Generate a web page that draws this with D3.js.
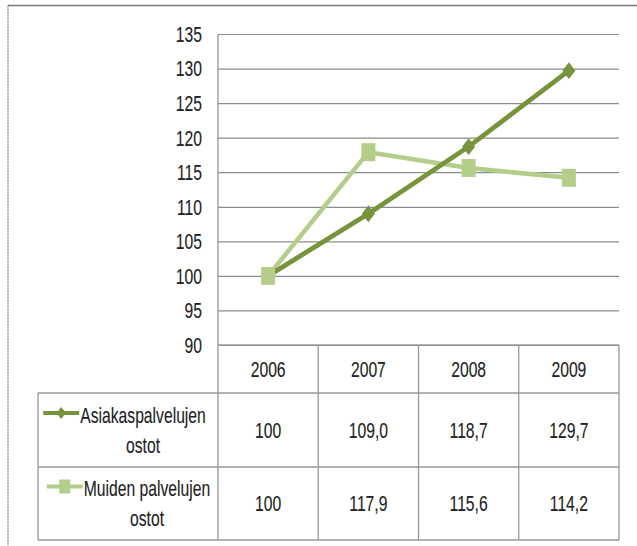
<!DOCTYPE html>
<html>
<head>
<meta charset="utf-8">
<script src="https://cdn.jsdelivr.net/npm/d3@7"></script>
<style>
  body { margin: 0; background: #fff; }
  svg { display: block; }
  text { font-family: "Liberation Sans", Arial, sans-serif; font-size: 21.5px; fill: #222; stroke: #222; stroke-width: 0.12px; }
</style>
</head>
<body>
<svg id="chart" width="637" height="546"></svg>
<script>
// data
const years = ["2006", "2007", "2008", "2009"];
const asiakas = [100, 109.0, 118.7, 129.7];
const muiden = [100, 117.9, 115.6, 114.2];
const asiakasLabels = ["100", "109,0", "118,7", "129,7"];
const muidenLabels = ["100", "117,9", "115,6", "114,2"];
const seriesNames = [["Asiakaspalvelujen", "ostot"], ["Muiden palvelujen", "ostot"]];
const yTicks = [90, 95, 100, 105, 110, 115, 120, 125, 130, 135];

const darkGreen = "#77933c",
      lightGreen = "#b4cd8a",
      gridColor = "#8c8c8c",
      SX = 0.73; // text in the picture is narrow

const svg = d3.select("#chart");

const plotLeft = 218, plotRight = 619, plotTop = 34, plotBottom = 345;
const rowH = [48, 74, 73];
const legendLeft = 38;

const x = d3.scaleBand().domain(years).range([plotLeft, plotRight]);
const y = d3.scaleLinear().domain([90, 135]).range([plotBottom, plotTop]);

function narrowText(g, tx, ty, str, anchor) {
	return g.append("text")
		.attr("transform", "translate(" + tx + "," + ty + ") scale(" + SX + ",1)")
		.attr("text-anchor", anchor || "middle")
		.attr("dy", "0.35em")
		.text(str);
}

// outer frame (cut off on the right and bottom)
svg.append("line").attr("x1", 8).attr("x2", 637).attr("y1", 5.5).attr("y2", 5.5)
	.attr("stroke", "#777").attr("stroke-width", 1.5);
svg.append("line").attr("x1", 8).attr("x2", 8).attr("y1", 5.5).attr("y2", 546)
	.attr("stroke", "#999").attr("stroke-width", 1.5).attr("stroke-dasharray", "2,1");

// gridlines + tick labels
const yAxis = svg.append("g")
	.attr("transform", "translate(" + plotLeft + ",0)")
	.call(d3.axisLeft(y).tickValues(yTicks).tickSize(-(plotRight - plotLeft)).tickPadding(0));
yAxis.select(".domain").remove();
yAxis.selectAll(".tick line").attr("stroke", gridColor).attr("stroke-width", 1.2);
yAxis.selectAll(".tick text")
	.attr("x", null).attr("dy", null)
	.attr("fill", "#222")
	.attr("text-anchor", "end")
	.attr("dominant-baseline", "central")
	.attr("transform", "translate(-16,0) scale(" + SX + ",1)");
yAxis.attr("font-size", null).attr("font-family", null);

svg.append("line").attr("x1", plotLeft).attr("x2", plotLeft).attr("y1", plotTop).attr("y2", plotBottom)
	.attr("stroke", gridColor).attr("stroke-width", 1.2);

// data table
const tbl = svg.append("g");
const rowTop = [plotBottom, plotBottom + rowH[0], plotBottom + rowH[0] + rowH[1]];
const tableBottom = rowTop[2] + rowH[2];
const borderColor = "#999";

// horizontal lines
tbl.append("line").attr("x1", plotLeft).attr("x2", plotRight).attr("y1", plotBottom).attr("y2", plotBottom);
[rowTop[1], rowTop[2], tableBottom].forEach(yy => {
	tbl.append("line").attr("x1", legendLeft).attr("x2", plotRight).attr("y1", yy).attr("y2", yy);
});
// vertical lines
years.forEach(yr => {
	tbl.append("line").attr("x1", x(yr)).attr("x2", x(yr)).attr("y1", plotBottom).attr("y2", tableBottom);
});
tbl.append("line").attr("x1", plotRight).attr("x2", plotRight).attr("y1", plotBottom).attr("y2", tableBottom);
tbl.append("line").attr("x1", legendLeft).attr("x2", legendLeft).attr("y1", rowTop[1]).attr("y2", tableBottom);
tbl.selectAll("line").attr("stroke", borderColor).attr("stroke-width", 1.3);

// header + values
years.forEach((yr, i) => {
	const cx = x(yr) + x.bandwidth() / 2;
	narrowText(tbl, cx, rowTop[0] + rowH[0] / 2, yr);
	narrowText(tbl, cx, rowTop[1] + rowH[1] / 2, asiakasLabels[i]);
	narrowText(tbl, cx, rowTop[2] + rowH[2] / 2, muidenLabels[i]);
});

// legend cells
const diamond = d3.symbol().type(d3.symbolDiamond2);
const legendSpec = [
	{ names: seriesNames[0], color: darkGreen, marker: "diamond", row: 1, cx: 143 },
	{ names: seriesNames[1], color: lightGreen, marker: "square", row: 2, cx: 147 }
];
legendSpec.forEach(s => {
	const midY = rowTop[s.row] + rowH[s.row] / 2;
	const l1 = narrowText(tbl, s.cx, midY - 15, s.names[0]);
	narrowText(tbl, s.cx, midY + 15, s.names[1]);
	const w = l1.node().getComputedTextLength() * SX;
	const x1 = s.cx - w / 2 - 1;
	const x0 = x1 - 36;
	const my = midY - 17;
	tbl.append("line").attr("x1", x0).attr("x2", x1).attr("y1", my).attr("y2", my)
		.attr("stroke", s.color).attr("stroke-width", 4);
	if (s.marker === "diamond") {
		tbl.append("path").attr("d", diamond.size(60)())
			.attr("transform", "translate(" + ((x0 + x1) / 2) + "," + my + ") scale(1,1.25)")
			.attr("fill", s.color);
	} else {
		tbl.append("rect").attr("x", (x0 + x1) / 2 - 5.5).attr("y", my - 7)
			.attr("width", 11).attr("height", 14).attr("fill", s.color);
	}
});

// lines and markers
const line = d3.line()
	.x((d, i) => x(years[i]) + x.bandwidth() / 2)
	.y(d => y(d));

svg.append("path").datum(muiden)
	.attr("d", line).attr("fill", "none")
	.attr("stroke", lightGreen).attr("stroke-width", 4.5);
svg.append("path").datum(asiakas)
	.attr("d", line).attr("fill", "none")
	.attr("stroke", darkGreen).attr("stroke-width", 4.8);

svg.selectAll(".mk-a").data(asiakas).enter().append("path")
	.attr("class", "mk-a")
	.attr("d", diamond.size(108)())
	.attr("transform", (d, i) => "translate(" + (x(years[i]) + x.bandwidth() / 2) + "," + y(d) + ") scale(1,1.3)")
	.attr("fill", darkGreen);

svg.selectAll(".mk-m").data(muiden).enter().append("rect")
	.attr("class", "mk-m")
	.attr("x", (d, i) => x(years[i]) + x.bandwidth() / 2 - 7)
	.attr("y", d => y(d) - 9)
	.attr("width", 14).attr("height", 18)
	.attr("fill", lightGreen);
</script>
</body>
</html>
